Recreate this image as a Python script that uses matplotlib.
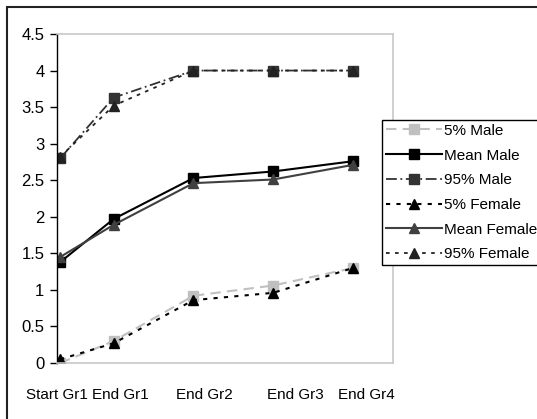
import matplotlib.pyplot as plt
from matplotlib.patches import Rectangle

plt.rcParams['font.family'] = ['Liberation Sans', 'DejaVu Sans']

# time points (grade position) and the labels shown under the axis
x = [0, 0.67, 1.67, 2.67, 3.67]
label_pos = [-0.04, 0.75, 1.81, 2.95, 3.84]
labels = ["Start Gr1", "End Gr1", "End Gr2", "End Gr3", "End Gr4"]

p5_male = [0.0, 0.30, 0.92, 1.06, 1.30]
mean_male = [1.38, 1.97, 2.53, 2.62, 2.76]
p95_male = [2.80, 3.63, 4.0, 4.0, 4.0]
p5_female = [0.05, 0.27, 0.86, 0.96, 1.30]
mean_female = [1.45, 1.89, 2.46, 2.51, 2.71]
p95_female = [2.82, 3.52, 4.0, 4.0, 4.0]

W, H = 537, 419
fig = plt.figure(figsize=(W / 100, H / 100), dpi=100)
ax = fig.add_axes([57 / W, 1 - 363 / H, (393 - 57) / W, (363 - 34) / H])

ms = 7.5
ax.plot(x, p5_male, color="#c0c0c0", ls=(0, (5, 3)), lw=1.5, marker="s", ms=ms, label="5% Male")
ax.plot(x, mean_male, color="#000000", ls="-", lw=1.5, marker="s", ms=ms, label="Mean Male")
ax.plot(x, p95_male, color="#333333", ls=(0, (6, 2, 1, 2)), lw=1.3, marker="s", ms=ms, label="95% Male")
ax.plot(x, p5_female, color="#000000", ls=(0, (2, 3)), lw=1.5, marker="^", ms=ms, label="5% Female")
ax.plot(x, mean_female, color="#404040", ls="-", lw=1.5, marker="^", ms=ms, label="Mean Female")
ax.plot(x, p95_female, color="#222222", ls=(0, (2, 3)), lw=1.3, marker="^", ms=ms, label="95% Female")

ax.set_xlim(0, 4.17)
ax.set_ylim(0, 4.5)
ax.set_yticks([0, 0.5, 1, 1.5, 2, 2.5, 3, 3.5, 4, 4.5])
ax.set_yticklabels(["0", "0.5", "1", "1.5", "2", "2.5", "3", "3.5", "4", "4.5"])
ax.set_xticks(label_pos, labels)
ax.tick_params(axis="x", length=0, pad=18, labelsize=11)
ax.tick_params(axis="y", length=5, width=1, pad=4, labelsize=12)
for s in ["top", "right", "bottom"]:
    ax.spines[s].set_color("#c8c8c8")
    ax.spines[s].set_linewidth(1.2)
ax.spines["left"].set_color("black")
ax.spines["left"].set_linewidth(1)

leg = fig.legend(loc="upper left", bbox_to_anchor=(382 / W, 1 - 120 / H), fontsize=11,
                 frameon=True, fancybox=False, edgecolor="black", framealpha=1,
                 handlelength=3.7, handletextpad=0.1, borderpad=0.25, labelspacing=0.7,
                 borderaxespad=0)
leg.get_frame().set_linewidth(1)

fig.patches.append(Rectangle((7 / W, -0.05), 2, 1 - 7 / H + 0.05, transform=fig.transFigure,
                             fill=False, ec="#222222", lw=1.5))

fig.savefig("out.png", dpi=100)
